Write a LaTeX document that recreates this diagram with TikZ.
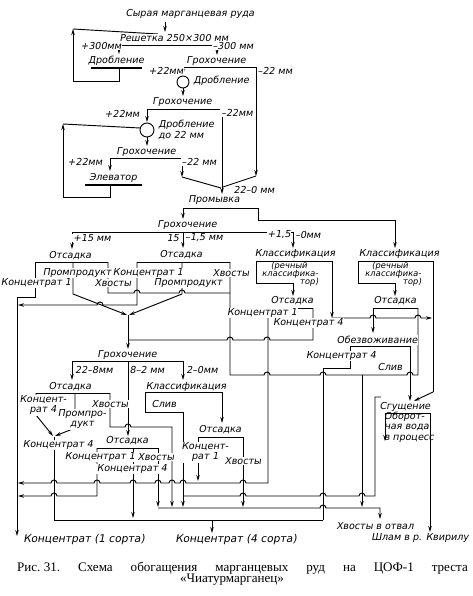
\documentclass[tikz,border=0pt]{standalone}
\usepackage{fontspec}
\setmainfont{Liberation Serif}
\newfontfamily\sketchfont[FakeSlant=0.18]{DejaVu Sans}
\usetikzlibrary{arrows.meta}

\begin{document}
\begin{tikzpicture}[
    x=0.75pt, y=-0.75pt,
    line width=0.7pt,
    lbl/.style={font=\sketchfont\fontsize{7.2}{7.8}\selectfont, inner sep=0.6pt, fill=white, align=center},
    sublbl/.style={font=\sketchfont\fontsize{6.3}{6.5}\selectfont, inner sep=0.3pt},
    biglbl/.style={font=\sketchfont\fontsize{8}{9}\selectfont, inner sep=0.6pt},
    captext/.style={font=\frenchspacing\fontsize{9.8}{11}\selectfont, inner sep=0pt},
    arr/.style={-{Stealth[length=4.5pt,width=2.6pt]}},
    fork/.style={{Stealth[length=4.5pt,width=2.6pt]}-{Stealth[length=4.5pt,width=2.6pt]}},
    jumpr/.style={start angle=180, end angle=360, radius=3},
    jumpl/.style={start angle=0, end angle=-180, radius=3},
    bar/.style={line width=1.3pt}
]
\useasboundingbox (0,0) rectangle (473,596);

% crushing and screening
\draw[arr] (165,22) -- (165,32);
\draw[fork] (119,54) -- (119,45) -- (217,45) -- (217,55);
\draw[arr] (119,68) -- (119,81) -- (73,81) -- (73,29);
\draw (73,29) -- (158,34);
\draw[bar] (91,68) -- (142,68);
\draw[arr] (256,67) -- (183,67) -- (183,75);
\draw[arr] (256,67) -- (256,176);
\draw (256,176) -- (223,187);
\draw (183,82) circle[radius=6];
\draw[arr] (183,88) -- (183,96);
\draw[fork] (147,122) -- (147,109) -- (222,109) -- (222,194);
\draw (147,130) circle[radius=7];
\draw[arr] (110,185) -- (110,197) -- (63,197) -- (63,124);
\draw (63,124) -- (140,128);
\draw[arr] (147,137) -- (147,146);
\draw[fork] (110,171) -- (110,158) -- (182,158) -- (182,177);
\draw (182,177) -- (221,188);
\draw[bar] (85,185) -- (142,185);

% washing and sizing
\draw[arr] (258,208) -- (183,208) -- (183,219);
\draw[arr] (258,208) -- (258,220) -- (395,220) -- (395,248);
\draw[arr] (183,232) -- (72,232) -- (72,249);
\draw[arr] (183,232) -- (293,232) -- (293,248);
\draw[arr] (183,232) -- (183,248);

% jigs +15 and 15-1,5
\draw (35,262) -- (108,262);
\draw (35,262) -- (35,297) -- (17,297);
\draw[arr] (17,297) -- (17,536);
\draw[arr] (73,262) -- (73,294) -- (127,315);
\draw (108,262) -- (108,293) -- (134,293) arc[jumpr] -- (179,293) arc[jumpr] -- (230,293);
\draw (137,262) -- (230,262);
\draw[arr] (137,262) -- (137,305) -- (103,305) arc[jumpl] -- (18,305);
\draw[arr] (182,262) -- (182,294) -- (129,315);
\draw[arr] (128,315) -- (128,349);
\draw (230,262) -- (230,375) -- (264,375) arc[jumpr] -- (320,375) arc[jumpr] -- (362,375);
\draw (418,308) -- (418,375) -- (413,375) arc[jumpl] -- (362,375);
\draw[arr] (362,375) -- (362,507);

% classifiers
\draw (256,261) -- (332,261);
\draw[arr] (256,261) -- (256,283) -- (293,283) -- (293,296);
\draw[arr] (332,261) -- (332,318);
\draw[arr] (332,318) -- (370,318) arc[jumpr] -- (415,318) arc[jumpr] -- (432,318);
\draw (358,261) -- (433,261) -- (433,392);
\draw[arr] (358,261) -- (358,283) -- (395,283) -- (395,296);
\draw[arr] (433,392) -- (414,401);
\draw (268,308) -- (313,308);
\draw (313,308) -- (313,340) -- (270,340) arc[jumpl] -- (233,340) arc[jumpl] -- (128,340);
\draw[arr] (268,308) -- (268,483) -- (246,483) arc[jumpl] -- (186,483) arc[jumpl]
  -- (175,483) arc[jumpl] -- (161,483) arc[jumpl] -- (136,483) arc[jumpl]
  -- (100,483) arc[jumpl] -- (57,483) arc[jumpl] -- (18,483);
\draw (373,308) -- (418,308);
\draw[arr] (373,308) -- (373,333);

% dewatering and thickening
\draw (350,346) -- (410,346);
\draw (350,346) -- (350,368) -- (323,368) -- (323,520);
\draw[arr] (410,346) -- (410,401);
\draw (381,397) -- (375,397) -- (375,496) -- (365,496) arc[jumpl] -- (326,496) arc[jumpl]
  -- (246,496) arc[jumpl] -- (183,496);
\draw[arr] (430,413) -- (385,413) -- (385,441);
\draw[arr] (430,413) -- (430,532);

% second sizing
\draw[arr] (128,361) -- (72,361) -- (72,380);
\draw[arr] (128,361) -- (183,361) -- (183,380);
\draw[arr] (128,361) -- (128,436);
\draw (36,393) -- (110,393);
\draw[arr] (36,393) -- (36,415) -- (53,436);
\draw[arr] (75,393) -- (75,428) -- (55,436);
\draw (54,437) -- (54,520);
\draw[arr] (110,393) -- (110,427) -- (125,427) arc[jumpr] -- (172,427) -- (172,507);
\draw (145,392) -- (222,392);
\draw[arr] (145,392) -- (145,412) -- (183,412) -- (183,507);
\draw[arr] (222,392) -- (222,423);
\draw (198,437) -- (243,437);
\draw[arr] (198,437) -- (198,481);
\draw[arr] (243,437) -- (243,507);
\draw (97,448) -- (158,448);
\draw[arr] (97,448) -- (97,496) -- (57,496) arc[jumpl] -- (18,496);
\draw[arr] (133,448) -- (133,518);
\draw[arr] (158,448) -- (158,507);

% products
\draw[arr] (158,508) -- (320,508) arc[jumpr] -- (380,508) -- (380,519);
\draw (54,520) -- (323,520);
\draw[arr] (212,520) -- (212,533);

\node[lbl] (ore) at (190,14) {Сырая марганцевая руда};
\node[lbl] (grid) at (174,38) {Решетка 250×300 мм};
\node[lbl] (grid300p) at (101,46) {+300мм};
\node[lbl] (grid300m) at (233,46) {–300 мм};
\node[lbl] (crushA) at (116,61) {Дробление};
\node[lbl] (scrA) at (216,61) {Грохочение};
\node[lbl] (scrA22p) at (166,71) {+22мм};
\node[lbl] (scrA22m) at (275,71) {–22 мм};
\node[lbl, anchor=west] (crushB) at (192,81) {Дробление};
\node[lbl] (scrB) at (182,102) {Грохочение};
\node[lbl] (scrB22p) at (122,114) {+22мм};
\node[lbl] (scrB22m) at (237,113) {–22мм};
\node[lbl, anchor=west, align=left] (crushC) at (157,130) {Дробление\\до 22 мм};
\node[lbl] (scrC) at (146,152) {Грохочение};
\node[lbl] (scrC22p) at (85,162) {+22мм};
\node[lbl] (scrC22m) at (199,162) {–22 мм};
\node[lbl] (elev) at (113,178) {Элеватор};
\node[lbl] (wash220) at (254,190) {22–0 мм};
\node[lbl] (wash) at (214,200) {Промывка};
\node[lbl] (scrD) at (187,225) {Грохочение};
\node[lbl] (scrD15p) at (92,238) {+15 мм};
\node[lbl] (scrD15) at (173,238) {15};
\node[lbl] (scrD15m) at (204,238) {–1,5 мм};
\node[lbl] (scrD1p) at (279,235) {+1,5};
\node[lbl] (scrD1m) at (308,235) {–0мм};

\node[lbl] (jigA) at (70,256) {Отсадка};
\node[lbl] (jigAm) at (77,273) {Промпродукт};
\node[lbl] (jigAc) at (36,283) {Концентрат 1};
\node[lbl] (jigAt) at (113,283) {Хвосты};
\node[lbl] (jigB) at (181,255) {Отсадка};
\node[lbl] (jigBc) at (148,273) {Концентрат 1};
\node[lbl] (jigBt) at (231,273) {Хвосты};
\node[lbl] (jigBm) at (188,283) {Промпродукт};

\node[lbl] (clsL) at (295,254) {Классификация};
\node[sublbl] (clsL1) at (289,266) {(речный};
\node[sublbl] (clsL2) at (290,274) {классифика-};
\node[sublbl] (clsL3) at (309,282) {тор)};
\node[lbl] (clsR) at (399,254) {Классификация};
\node[sublbl] (clsR1) at (390,266) {(речный};
\node[sublbl] (clsR2) at (393,274) {классифика-};
\node[sublbl] (clsR3) at (412,282) {тор)};
\node[lbl] (jigC) at (292,301) {Отсадка};
\node[lbl] (jigCc) at (262,313) {Концентрат 1};
\node[lbl] (jigC4) at (308,323) {Концентрат 4};
\node[lbl] (jigR) at (395,301) {Отсадка};
\node[lbl] (dewat) at (377,340) {Обезвоживание};
\node[lbl] (dewat4) at (341,356) {Концентрат 4};
\node[lbl] (dewatS) at (390,367) {Слив};

\node[lbl] (scrE) at (127,355) {Грохочение};
\node[lbl] (scrE228) at (94,370) {22–8мм};
\node[lbl] (scrE82) at (147,370) {8–2 мм};
\node[lbl] (scrE20) at (202,370) {2–0мм};
\node[lbl] (jigD) at (70,387) {Отсадка};
\node[lbl] (jigD4) at (43,405) {Концент-\\рат 4};
\node[lbl] (jigDt) at (110,404) {Хвосты};
\node[lbl] (jigDm) at (82,419) {Промпро-\\дукт};
\node[lbl] (clsF) at (186,387) {Классификация};
\node[lbl] (clsFs) at (164,404) {Слив};
\node[lbl] (jigD4b) at (58,445) {Концентрат 4};
\node[lbl] (jigE) at (127,441) {Отсадка};
\node[lbl] (jigEc) at (100,457) {Концентрат 1};
\node[lbl] (jigEt) at (156,457) {Хвосты};
\node[lbl] (jigE4) at (132,469) {Концентрат 4};
\node[lbl] (jigF) at (220,430) {Отсадка};
\node[lbl] (jigFc) at (205,452) {Концент-\\рат 1};
\node[lbl] (jigFt) at (243,461) {Хвосты};
\node[lbl] (thick) at (405,407) {Сгущение};
\node[lbl, align=left, fill=none] (water) at (409,427) {Оборот-\\ная вода\\в процесс};

\node[biglbl] (prod1) at (84,540) {Концентрат (1 сорта)};
\node[biglbl] (prod4) at (236,540) {Концентрат (4 сорта)};
\node[lbl] (waste) at (375,526) {Хвосты в отвал};
\node[lbl] (slime) at (420,538) {Шлам в р. Квирилу};

\node[captext] (capA) at (242.5,568) {\makebox[338pt][s]{\mbox{Рис. 31.} Схема обогащения марганцевых руд на ЦОФ-1 треста}};
\node[captext] (capB) at (232,580) {«Чиатурмарганец»};
\end{tikzpicture}
\end{document}
